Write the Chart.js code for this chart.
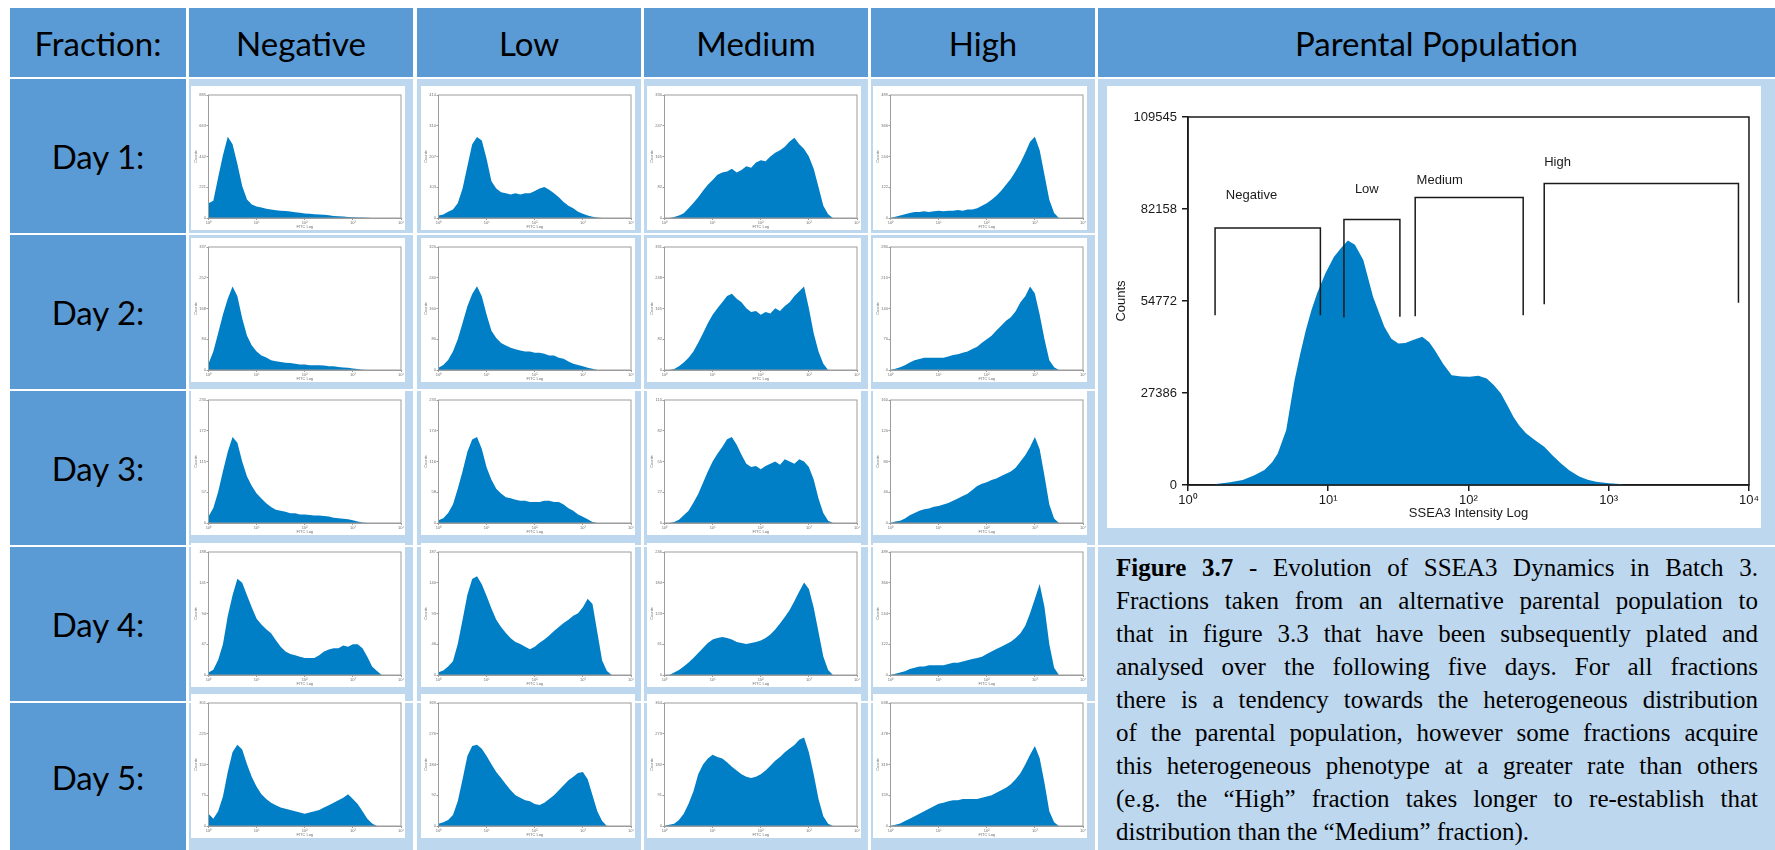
<!DOCTYPE html>
<html>
<head>
<meta charset="utf-8">
<script src="https://cdn.jsdelivr.net/npm/chart.js"></script>
<style>
  body { margin: 0; background: #fff; }
  #sheet { position: relative; width: 1775px; height: 850px; overflow: hidden; background: #fff; }
  .head { position: absolute; box-sizing: border-box; background: #5B9BD5; color: #000;
          font-family: Lato, "Open Sans", sans-serif; font-size: 33px;
          display: flex; align-items: center; justify-content: center; }
  .pane { position: absolute; box-sizing: border-box; background: #BDD7EE; }
  .caption { font-family: "Liberation Serif", "Times New Roman", serif; font-size: 25px; line-height: 33px;
             color: #000; padding: 4px 17px 0 18px; }
  .caption .ln { text-align: justify; text-align-last: justify; }
  .caption .ln.last { text-align-last: left; }
  canvas { position: absolute; background: #fff; }
</style>
</head>
<body>
<div id="sheet"></div>
<script>
const FRACTIONS = ['Negative', 'Low', 'Medium', 'High'];
const DAYS = ['Day 1:', 'Day 2:', 'Day 3:', 'Day 4:', 'Day 5:'];
const DECADE_LABELS = ['10⁰', '10¹', '10²', '10³', '10⁴'];

// log10 intensity of each histogram bin in the fraction plots
const LOG_BINS = [
  0.0, 0.1, 0.2, 0.3, 0.4, 0.5, 0.6, 0.7, 0.8, 0.9,
  1.0, 1.1, 1.2, 1.3, 1.4, 1.5, 1.6, 1.7, 1.8, 1.9,
  2.0, 2.1, 2.2, 2.3, 2.4, 2.5, 2.6, 2.7, 2.8, 2.9,
  3.0, 3.1, 3.2, 3.3, 3.4, 3.5, 3.6, 3.7, 3.8, 3.9, 4.0,
];

// top of the counts axis (Negative, Low, Medium, High)
const AXIS_TOP_DAY1 = [885, 414, 330, 489];
const AXIS_TOP_DAY2 = [337, 320, 331, 280];
const AXIS_TOP_DAY3 = [230, 233, 110, 160];
const AXIS_TOP_DAY4 = [188, 187, 246, 489];
const AXIS_TOP_DAY5 = [301, 369, 364, 638];

const DAY1_NEGATIVE = [
  106, 124, 292, 451, 584, 531, 389, 230, 133, 97,
  83, 75, 66, 62, 56, 53, 50, 46, 42, 38,
  33, 30, 27, 25, 23, 19, 15, 13, 11, 8,
  5, 4, 3, 2, 0, 0, 0, 0, 0, 0, 0,
];
const DAY1_LOW = [
  8, 12, 21, 29, 50, 99, 174, 248, 273, 261,
  199, 124, 99, 87, 83, 79, 83, 79, 83, 83,
  91, 99, 104, 95, 83, 70, 54, 41, 33, 21,
  14, 8, 4, 2, 0, 0, 0, 0, 0, 0, 0,
];
const DAY1_MEDIUM = [
  0, 0, 3, 7, 13, 26, 40, 56, 73, 89,
  102, 116, 122, 125, 132, 122, 129, 139, 135, 149,
  155, 152, 165, 175, 182, 191, 205, 215, 198, 185,
  165, 132, 83, 33, 10, 0, 0, 0, 0, 0, 0,
];
const DAY1_HIGH = [
  0, 5, 10, 15, 20, 24, 24, 27, 24, 27,
  29, 27, 29, 29, 32, 29, 34, 34, 39, 49,
  59, 73, 88, 108, 132, 156, 186, 220, 259, 303,
  323, 269, 171, 73, 20, 0, 0, 0, 0, 0, 0,
];

const DAY2_NEGATIVE = [
  17, 51, 101, 152, 195, 229, 202, 142, 94, 67,
  51, 40, 34, 27, 24, 22, 20, 19, 17, 15,
  15, 13, 13, 13, 12, 10, 10, 8, 7, 6,
  4, 3, 1, 0, 0, 0, 0, 0, 0, 0, 0,
];
const DAY2_LOW = [
  6, 13, 26, 48, 80, 122, 166, 198, 218, 192,
  144, 102, 83, 70, 64, 58, 54, 51, 48, 48,
  45, 45, 42, 38, 38, 32, 29, 22, 16, 13,
  10, 6, 3, 0, 0, 0, 0, 0, 0, 0, 0,
];
const DAY2_MEDIUM = [
  0, 0, 3, 10, 20, 33, 50, 73, 99, 126,
  149, 166, 182, 199, 205, 192, 182, 166, 156, 159,
  149, 156, 152, 166, 159, 172, 182, 199, 212, 225,
  166, 99, 50, 17, 0, 0, 0, 0, 0, 0, 0,
];
const DAY2_HIGH = [
  0, 3, 6, 11, 17, 22, 25, 28, 28, 28,
  28, 28, 31, 34, 36, 39, 42, 48, 53, 62,
  70, 78, 90, 101, 112, 120, 134, 154, 168, 190,
  174, 126, 70, 22, 6, 0, 0, 0, 0, 0, 0,
];

const DAY3_NEGATIVE = [
  12, 28, 58, 97, 133, 161, 150, 115, 87, 69,
  55, 46, 37, 30, 25, 23, 21, 18, 18, 16,
  16, 15, 14, 14, 13, 12, 10, 9, 8, 7,
  5, 3, 1, 0, 0, 0, 0, 0, 0, 0, 0,
];
const DAY3_LOW = [
  5, 9, 19, 35, 65, 98, 135, 158, 163, 140,
  105, 82, 65, 56, 49, 47, 44, 42, 42, 40,
  40, 40, 42, 42, 40, 40, 35, 28, 23, 16,
  12, 7, 2, 0, 0, 0, 0, 0, 0, 0, 0,
];
const DAY3_MEDIUM = [
  0, 0, 1, 3, 7, 11, 18, 26, 36, 46,
  55, 62, 68, 75, 77, 70, 61, 53, 50, 51,
  48, 51, 53, 55, 52, 57, 55, 53, 57, 55,
  50, 39, 22, 9, 2, 0, 0, 0, 0, 0, 0,
];
const DAY3_HIGH = [
  0, 2, 3, 6, 10, 13, 16, 18, 19, 21,
  22, 24, 26, 29, 32, 35, 38, 43, 48, 51,
  53, 56, 58, 61, 64, 67, 72, 80, 88, 99,
  112, 96, 61, 24, 6, 0, 0, 0, 0, 0, 0,
];

const DAY4_NEGATIVE = [
  4, 8, 23, 47, 90, 122, 147, 141, 122, 103,
  86, 77, 70, 64, 53, 43, 36, 32, 30, 28,
  26, 26, 26, 30, 36, 39, 41, 41, 45, 43,
  47, 47, 41, 28, 13, 6, 0, 0, 0, 0, 0,
];
const DAY4_LOW = [
  4, 7, 13, 21, 47, 84, 122, 146, 150, 138,
  120, 101, 84, 73, 64, 56, 50, 47, 43, 39,
  43, 49, 54, 60, 67, 73, 79, 84, 90, 94,
  103, 116, 108, 65, 22, 6, 0, 0, 0, 0, 0,
];
const DAY4_MEDIUM = [
  0, 0, 5, 10, 17, 25, 34, 44, 54, 64,
  71, 74, 76, 74, 71, 66, 64, 62, 64, 66,
  69, 74, 81, 91, 103, 116, 130, 148, 167, 185,
  172, 135, 86, 37, 10, 0, 0, 0, 0, 0, 0,
];
const DAY4_HIGH = [
  0, 5, 10, 15, 24, 29, 34, 34, 39, 39,
  39, 39, 44, 49, 49, 54, 59, 64, 68, 73,
  83, 93, 103, 112, 122, 132, 147, 166, 196, 245,
  303, 362, 269, 122, 29, 0, 0, 0, 0, 0, 0,
];

const DAY5_NEGATIVE = [
  30, 18, 36, 72, 132, 181, 199, 187, 151, 120,
  96, 78, 66, 57, 51, 45, 42, 39, 36, 33,
  30, 33, 36, 39, 45, 51, 57, 63, 69, 78,
  66, 54, 36, 18, 6, 0, 0, 0, 0, 0, 0,
];
const DAY5_LOW = [
  7, 11, 18, 33, 74, 140, 210, 240, 244, 232,
  210, 185, 162, 144, 125, 107, 92, 85, 77, 74,
  66, 63, 70, 81, 92, 107, 122, 137, 148, 159,
  162, 140, 92, 44, 15, 0, 0, 0, 0, 0, 0,
];
const DAY5_MEDIUM = [
  0, 4, 7, 18, 36, 66, 102, 153, 182, 200,
  211, 204, 200, 189, 175, 164, 153, 146, 142, 146,
  153, 164, 178, 193, 204, 218, 229, 240, 255, 262,
  218, 153, 80, 29, 7, 0, 0, 0, 0, 0, 0,
];
const DAY5_HIGH = [
  0, 6, 13, 26, 38, 51, 64, 77, 89, 102,
  115, 121, 128, 134, 134, 140, 140, 140, 140, 147,
  153, 160, 172, 185, 198, 217, 242, 274, 319, 370,
  415, 351, 223, 77, 19, 0, 0, 0, 0, 0, 0,
];

// parental population, SSEA3 intensity (log10) against counts
const PARENT_LOG = [
  0.19, 0.2, 0.3, 0.39, 0.47, 0.545, 0.6, 0.64, 0.7, 0.76,
  0.8, 0.84, 0.88, 0.92, 0.98, 1.04, 1.09, 1.14, 1.19, 1.25,
  1.32, 1.4, 1.45, 1.5, 1.55, 1.6, 1.67, 1.72, 1.76, 1.82,
  1.88, 1.95, 2.01, 2.07, 2.13, 2.18, 2.23, 2.28, 2.32, 2.36,
  2.41, 2.47, 2.54, 2.6, 2.66, 2.72, 2.79, 2.85, 2.91, 3.0,
  3.1, 3.11,
];
const PARENT_COUNTS = [
  0, 300, 800, 1500, 2800, 4500, 6800, 9400, 16300, 31200,
  39000, 46100, 52000, 57000, 63000, 67900, 70500, 72800, 71500, 67000,
  56000, 47100, 43500, 42100, 42300, 43100, 44100, 42500, 40100, 36000,
  32700, 32300, 32200, 32500, 31700, 29800, 27300, 23500, 20300, 17800,
  15400, 13500, 11400, 8800, 6400, 4300, 2500, 1600, 1000, 500,
  200, 0,
];
const PARENT_TICKS = [0, 27386, 54772, 82158, 109545];

// sorting gates drawn over the parental histogram
const GATE_NAMES = ['Negative', 'Low', 'Medium', 'High'];
const GATE_FROM = [0.193, 1.112, 1.62, 2.54];
const GATE_TO = [0.944, 1.511, 2.39, 3.925];
const GATE_TOP = [76530, 79010, 85550, 89720];
const GATE_FOOT_LEFT = [50560, 49860, 50260, 53830];
const GATE_FOOT_RIGHT = [50560, 50060, 50560, 54220];
const GATE_LABEL_LOG = [0.27, 1.19, 1.63, 2.54];
const GATE_LABEL_COUNT = [86250, 88030, 90700, 95960];

const DAY_COUNTS = [
  [DAY1_NEGATIVE, DAY1_LOW, DAY1_MEDIUM, DAY1_HIGH],
  [DAY2_NEGATIVE, DAY2_LOW, DAY2_MEDIUM, DAY2_HIGH],
  [DAY3_NEGATIVE, DAY3_LOW, DAY3_MEDIUM, DAY3_HIGH],
  [DAY4_NEGATIVE, DAY4_LOW, DAY4_MEDIUM, DAY4_HIGH],
  [DAY5_NEGATIVE, DAY5_LOW, DAY5_MEDIUM, DAY5_HIGH],
];
const DAY_AXIS_TOP = [AXIS_TOP_DAY1, AXIS_TOP_DAY2, AXIS_TOP_DAY3, AXIS_TOP_DAY4, AXIS_TOP_DAY5];

const HIST_BLUE = '#007FC6';

// grid geometry of the sheet
const COL_LEFT = [189, 417, 644, 871];
const COL_W = 224;
const ROW_TOP = [79, 235, 391, 547, 703];
const BOX_LEFT = [191, 421, 647, 873];
const BOX_TOP = [86, 238, 391, 543, 694];

Chart.defaults.font.family = '"Liberation Sans", Arial, sans-serif';

Chart.register({
  id: 'plotFrame',
  defaults: { color: '#9c9c9c', width: 1 },
  afterDraw(chart, args, opts) {
    const { left, top, right, bottom } = chart.chartArea;
    const ctx = chart.ctx;
    ctx.save();
    ctx.strokeStyle = opts.color;
    ctx.lineWidth = opts.width;
    ctx.strokeRect(left, top, right - left, bottom - top);
    ctx.restore();
  },
});

const sheet = document.getElementById('sheet');

function addBlock(cls, left, top, w, h, html) {
  const d = document.createElement('div');
  d.className = cls;
  d.style.cssText = `left:${left}px;top:${top}px;width:${w}px;height:${h}px`;
  if (html) d.innerHTML = html;
  sheet.appendChild(d);
  return d;
}

function addCanvas(left, top, w, h) {
  const c = document.createElement('canvas');
  c.width = w;
  c.height = h;
  c.style.cssText = `left:${left}px;top:${top}px;width:${w}px;height:${h}px`;
  sheet.appendChild(c);
  return c;
}

function buildTable() {
  addBlock('head', 10, 8, 176, 69, 'Fraction:');
  FRACTIONS.forEach((f, i) => addBlock('head', COL_LEFT[i], 8, COL_W, 69, f));
  addBlock('head', 1098, 8, 677, 69, 'Parental Population');

  DAYS.forEach((d, r) => {
    const h = r === 4 ? 850 - ROW_TOP[r] : 154;
    addBlock('head', 10, ROW_TOP[r], 176, h, d);
    COL_LEFT.forEach((x) => addBlock('pane', x, ROW_TOP[r], COL_W, h));
  });

  addBlock('pane', 1098, 79, 677, 466);
  addBlock('pane caption', 1098, 547, 677, 303, [
    '<div class="ln"><b>Figure 3.7</b> - Evolution of SSEA3 Dynamics in Batch 3.</div>',
    '<div class="ln">Fractions taken from an alternative parental population to</div>',
    '<div class="ln">that in figure 3.3 that have been subsequently plated and</div>',
    '<div class="ln">analysed over the following five days. For all fractions</div>',
    '<div class="ln">there is a tendency towards the heterogeneous distribution</div>',
    '<div class="ln">of the parental population, however some fractions acquire</div>',
    '<div class="ln">this heterogeneous phenotype at a greater rate than others</div>',
    '<div class="ln">(e.g. the “High” fraction takes longer to re-establish that</div>',
    '<div class="ln last">distribution than the “Medium” fraction).</div>',
  ].join(''));
}

function fractionChart(canvas, counts, top) {
  const steps = [0, 1, 2, 3, 4];
  const grey = '#9c9c9c';
  const label = '#707070';
  return new Chart(canvas, {
    type: 'line',
    data: {
      datasets: [{
        data: LOG_BINS.map((x, i) => ({ x, y: counts[i] })),
        fill: 'origin',
        backgroundColor: HIST_BLUE,
        borderWidth: 0,
        pointRadius: 0,
        tension: 0,
      }],
    },
    options: {
      responsive: false,
      animation: false,
      events: [],
      layout: { padding: { top: 9, right: 4, left: 0, bottom: 0 } },
      plugins: { legend: { display: false }, tooltip: { enabled: false }, plotFrame: { color: grey, width: 1 } },
      scales: {
        x: {
          type: 'linear', min: 0, max: 4,
          afterBuildTicks: (s) => { s.ticks = steps.map((v) => ({ value: v })); },
          afterFit: (s) => { s.height = 12; },
          ticks: { callback: (v, i) => DECADE_LABELS[i], font: { size: 4 }, color: label, padding: 0, maxRotation: 0, autoSkip: false },
          grid: { drawOnChartArea: false, tickLength: 2, color: grey },
          border: { color: grey },
          title: { display: true, text: 'FITC Log', font: { size: 4 }, color: label, padding: { top: 0, bottom: 1 } },
        },
        y: {
          min: 0, max: top,
          afterBuildTicks: (s) => { s.ticks = steps.map((k) => ({ value: top * k / 4 })); },
          afterFit: (s) => { s.width = 17.5; },
          ticks: { callback: (v) => String(Math.floor(v)), font: { size: 4 }, color: label, padding: 0.5, autoSkip: false },
          grid: { drawOnChartArea: false, tickLength: 2, color: grey },
          border: { color: grey },
          title: { display: true, text: 'Counts', font: { size: 4 }, color: label, padding: { top: 2, bottom: 0 } },
        },
      },
    },
  });
}

const gateLabels = {
  id: 'gateLabels',
  afterDatasetsDraw(chart) {
    const { ctx, scales: { x, y } } = chart;
    ctx.save();
    ctx.font = '13px "Liberation Sans", Arial, sans-serif';
    ctx.fillStyle = '#1a1a1a';
    ctx.textAlign = 'left';
    ctx.textBaseline = 'middle';
    GATE_NAMES.forEach((name, g) => {
      ctx.fillText(name, x.getPixelForValue(GATE_LABEL_LOG[g]), y.getPixelForValue(GATE_LABEL_COUNT[g]));
    });
    ctx.restore();
  },
};

function parentalChart(canvas) {
  const ink = '#1a1a1a';
  const gates = GATE_NAMES.map((name, g) => ({
    label: name,
    data: [
      { x: GATE_FROM[g], y: GATE_FOOT_LEFT[g] },
      { x: GATE_FROM[g], y: GATE_TOP[g] },
      { x: GATE_TO[g], y: GATE_TOP[g] },
      { x: GATE_TO[g], y: GATE_FOOT_RIGHT[g] },
    ],
    borderColor: ink,
    borderWidth: 1.5,
    fill: false,
    pointRadius: 0,
    order: 0,
  }));
  return new Chart(canvas, {
    type: 'line',
    data: {
      datasets: [{
        label: 'Parental',
        data: PARENT_LOG.map((x, i) => ({ x, y: PARENT_COUNTS[i] })),
        fill: 'origin',
        backgroundColor: HIST_BLUE,
        borderWidth: 0,
        pointRadius: 0,
        order: 1,
      }, ...gates],
    },
    options: {
      responsive: false,
      animation: false,
      events: [],
      layout: { padding: { top: 31, right: 11, left: 0, bottom: 0 } },
      plugins: { legend: { display: false }, tooltip: { enabled: false }, plotFrame: { color: ink, width: 1.5 } },
      scales: {
        x: {
          type: 'linear', min: 0, max: 4,
          afterBuildTicks: (s) => { s.ticks = [0, 1, 2, 3, 4].map((v) => ({ value: v })); },
          afterFit: (s) => { s.height = 43; },
          ticks: { callback: (v, i) => DECADE_LABELS[i], font: { size: 13 }, color: ink, padding: 2, maxRotation: 0, autoSkip: false },
          grid: { drawOnChartArea: false, tickLength: 6, color: ink, lineWidth: 1.5 },
          border: { color: ink, width: 1.5 },
          title: { display: true, text: 'SSEA3 Intensity Log', font: { size: 13 }, color: ink, padding: { top: 0, bottom: 7 } },
        },
        y: {
          min: 0, max: PARENT_TICKS[PARENT_TICKS.length - 1],
          afterBuildTicks: (s) => { s.ticks = PARENT_TICKS.map((v) => ({ value: v })); },
          afterFit: (s) => { s.width = 81; },
          ticks: { callback: (v) => String(v), font: { size: 13 }, color: ink, padding: 5, autoSkip: false },
          grid: { drawOnChartArea: false, tickLength: 6, color: ink, lineWidth: 1.5 },
          border: { color: ink, width: 1.5 },
          title: { display: true, text: 'Counts', font: { size: 13 }, color: ink, padding: { top: 7, bottom: 0 } },
        },
      },
    },
    plugins: [gateLabels],
  });
}

document.addEventListener('DOMContentLoaded', () => {
  buildTable();
  DAY_COUNTS.forEach((row, r) => {
    row.forEach((counts, c) => {
      fractionChart(addCanvas(BOX_LEFT[c], BOX_TOP[r], 214, 144), counts, DAY_AXIS_TOP[r][c]);
    });
  });
  parentalChart(addCanvas(1107, 86, 654, 442));
});
</script>
</body>
</html>
